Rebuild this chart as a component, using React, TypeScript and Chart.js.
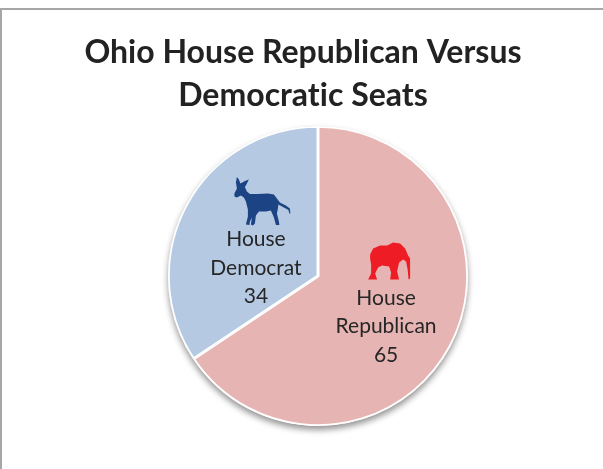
import React, { useEffect, useRef } from "react";
import { Chart, registerables } from "chart.js";

Chart.register(...registerables);

const categories = ["House Republican", "House Democrat"];
const seats = [65, 34];
const sliceColors = ["#e6b5b3", "#b5c9e3"];
const titleLines = ["Ohio House Republican Versus", "Democratic Seats"];
const labelFont = "Lato, 'Open Sans', sans-serif";

// Party silhouettes in local pixel units.
const donkeyPath =
  "M9 5.5 L11 8 L12.5 12 L17 9.5 L21 8 L18.5 13 L17 15.5 L19 20 L22 22.5 L30 22.5 L40 22 L46 23 L49 27 L52 31 L58 34 L62 37 L62.5 42 L61.5 42 L60.5 38.5 L56 36 L50.5 33 L50 37 L49 42 L51 50 L51.5 53.5 L48 53.5 L46 46 L43 39 L38 40 L31 40 L28 44 L27 52 L25 54 L23 53 L24 46 L22 50 L21.5 53.5 L18 53 L20 45 L20 38 L18 30 L16 26 L13 24 L9 26 L6.5 25 L6.5 22 L9 17 L8 11 Z";
const elephantPath =
  "M10 18 L13 12 L20 9 L27 9 L33 6 L40 7 L45 12 L48 19 L50 22 L50 33 L50 42 L48.5 43 L47.5 33 L46 25 L43 23 L39 26 L37 35 L39 43 L30 43 L31 36 L29 30 L22 29 L18 31 L15 37 L17 43 L8 43 L11 37 L11 28 L10 22 Z";

const partyColors = ["#ee1c25", "#1c4484"];
// Icon origin and label anchor, in radius units from each slice's centre point.
const partyIcons = [
  { path: elephantPath, dx: -0.16, dy: -0.5 },
  { path: donkeyPath, dx: -0.16, dy: -0.46 },
];
const labelOffsets = [
  { dx: 0.013, dy: 0.1 },
  { dx: 0.027, dy: 0.183 },
];

const chartDecor = {
  id: "chartDecor",
  beforeDraw(chart: any) {
    const { ctx, width, height } = chart;
    ctx.save();
    ctx.fillStyle = "#ffffff";
    ctx.fillRect(0, 0, width, height);
    ctx.strokeStyle = "#a6a6a6";
    ctx.lineWidth = 2;
    ctx.strokeRect(1, 9, width + 20, height + 20);

    // The title is centred on the frame, not on the pie's offset plot area.
    ctx.font = `bold 32px ${labelFont}`;
    ctx.letterSpacing = "0.01px";
    ctx.fillStyle = "#222222";
    ctx.textAlign = "center";
    ctx.textBaseline = "middle";
    titleLines.forEach((line, k) => ctx.fillText(line, 303, 53 + k * 43));
    ctx.restore();
  },
  beforeDatasetDraw(chart: any) {
    const { ctx } = chart;
    ctx.save();
    const arc = chart.getDatasetMeta(0).data[0];
    ctx.shadowColor = "rgba(0,0,0,0.42)";
    ctx.shadowBlur = 6;
    ctx.shadowOffsetY = 4;
    ctx.fillStyle = "#ffffff";
    ctx.beginPath();
    ctx.arc(arc.x, arc.y, arc.outerRadius, 0, Math.PI * 2);
    ctx.fill();
    ctx.restore();
  },
  afterDatasetsDraw(chart: any) {
    const { ctx } = chart;
    const meta = chart.getDatasetMeta(0);
    meta.data.forEach((arc: any, i: number) => {
      const c = arc.tooltipPosition();
      const r = arc.outerRadius;
      const off = labelOffsets[i];
      const lx = c.x + off.dx * r;
      const ly = c.y + off.dy * r;
      const icon = partyIcons[i];
      ctx.save();
      ctx.translate(c.x + icon.dx * r, c.y + icon.dy * r);
      ctx.fillStyle = partyColors[i];
      ctx.fill(new Path2D(icon.path));
      ctx.restore();

      const words = categories[i].split(" ");
      const lines = [...words, String(seats[i])];
      ctx.save();
      ctx.font = `21px ${labelFont}`;
      ctx.fillStyle = "#262626";
      ctx.textAlign = "center";
      ctx.textBaseline = "middle";
      lines.forEach((t, k) => ctx.fillText(t, lx, ly + (k - 1) * 28.5));
      ctx.restore();
    });
  },
};

export default function App() {
  const ref = useRef<HTMLCanvasElement>(null);
  useEffect(() => {
    const chart = new Chart(ref.current!, {
      type: "pie",
      data: {
        labels: categories,
        datasets: [
          {
            data: seats,
            backgroundColor: sliceColors,
            borderColor: "#ffffff",
            borderWidth: 1.5,
            borderAlign: "inner",
          },
        ],
      },
      options: {
        responsive: false,
        animation: false,
        layout: { padding: { top: 126, bottom: 43, left: 33 } },
        plugins: {
          legend: { display: false },
          tooltip: { enabled: false },
          title: { display: false },
        },
      },
      plugins: [chartDecor],
    } as any);
    return () => chart.destroy();
  }, []);
  return (
    <div style={{ position: "fixed", inset: 0, background: "#fff" }}>
      <canvas ref={ref} width={603} height={469} style={{ display: "block" }} />
    </div>
  );
}
